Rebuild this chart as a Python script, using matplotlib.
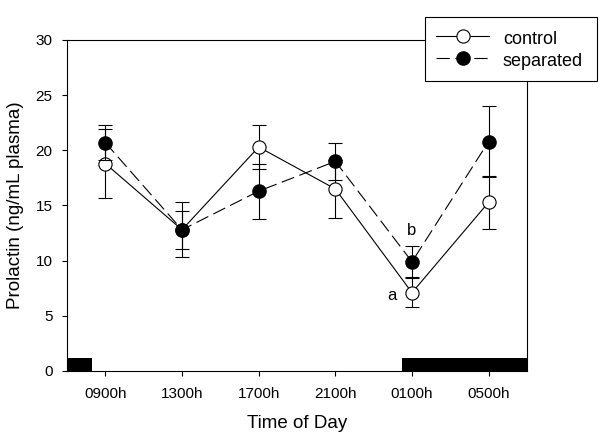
import matplotlib
matplotlib.use("Agg")
import matplotlib.pyplot as plt
import numpy as np

plt.rcParams['font.family'] = ['Liberation Sans', 'DejaVu Sans']

times = ["0900h", "1300h", "1700h", "2100h", "0100h", "0500h"]
control = [18.8, 12.8, 20.3, 16.5, 7.1, 15.3]
control_err = [3.1, 2.5, 2.0, 2.6, 1.3, 2.4]
separated = [20.7, 12.8, 16.3, 19.0, 9.9, 20.8]
separated_err = [1.6, 1.7, 2.5, 1.7, 1.4, 3.2]
# dark periods drawn as black bars along the x axis (start, end in category units)
dark_bars = [(-0.5, -0.17), (3.87, 5.5)]
dark_height = 1.15
letters = [("a", 3.74, 6.8), ("b", 4.0, 12.7)]

fig = plt.figure(figsize=(6, 4.4), dpi=100)
ax = fig.add_axes([67/600, 1-371/440, 460/600, 331/440])
x = np.arange(len(times))

for x0, x1 in dark_bars:
    ax.bar((x0+x1)/2, dark_height, width=x1-x0, color='black', zorder=1)

ax.errorbar(x, control, yerr=control_err, fmt='none', ecolor='black',
            elinewidth=0.8, capsize=5, capthick=0.8, zorder=2)
ax.plot(x, control, '-o', color='black', lw=0.8, mfc='white', mec='black',
        mew=0.8, ms=9.5, label='control', zorder=3)
ax.errorbar(x, separated, yerr=separated_err, fmt='none', ecolor='black',
            elinewidth=0.8, capsize=5, capthick=0.8, zorder=4)
ax.plot(x, separated, '--o', color='black', lw=0.8, dashes=(12, 5),
        mfc='black', mec='black', ms=9.5, label='separated', zorder=5)

for txt, xx, yy in letters:
    ax.text(xx, yy, txt, ha='center', va='center', fontsize=12)

ax.set_xlim(-0.5, 5.5)
ax.set_ylim(0, 30)
ax.set_xticks(x)
ax.set_xticklabels(times)
ax.set_yticks(np.arange(0, 31, 5))
ax.tick_params(direction='out', length=3.5, width=0.8, labelsize=11)
ax.tick_params(axis='x', pad=8, top=False)
ax.tick_params(axis='y', pad=7, right=False)
for s in ax.spines.values():
    s.set_linewidth(0.8)

ax.set_xlabel("Time of Day", fontsize=13.5, labelpad=10)
ax.set_ylabel("Prolactin (ng/mL plasma)", fontsize=13.5, labelpad=8)

h, l = ax.get_legend_handles_labels()
leg = fig.legend(h, l, loc='upper left',
                 bbox_to_anchor=(425/600, 1-79/440, 172/600, 62/440),
                 mode='expand', fontsize=13, frameon=True, fancybox=False,
                 framealpha=1, edgecolor='black', borderaxespad=0,
                 handlelength=2.93, handleheight=1.2, handletextpad=0.76,
                 borderpad=0.62, labelspacing=0.18)
leg.get_frame().set_linewidth(0.8)

fig.savefig("out.png", dpi=100)
